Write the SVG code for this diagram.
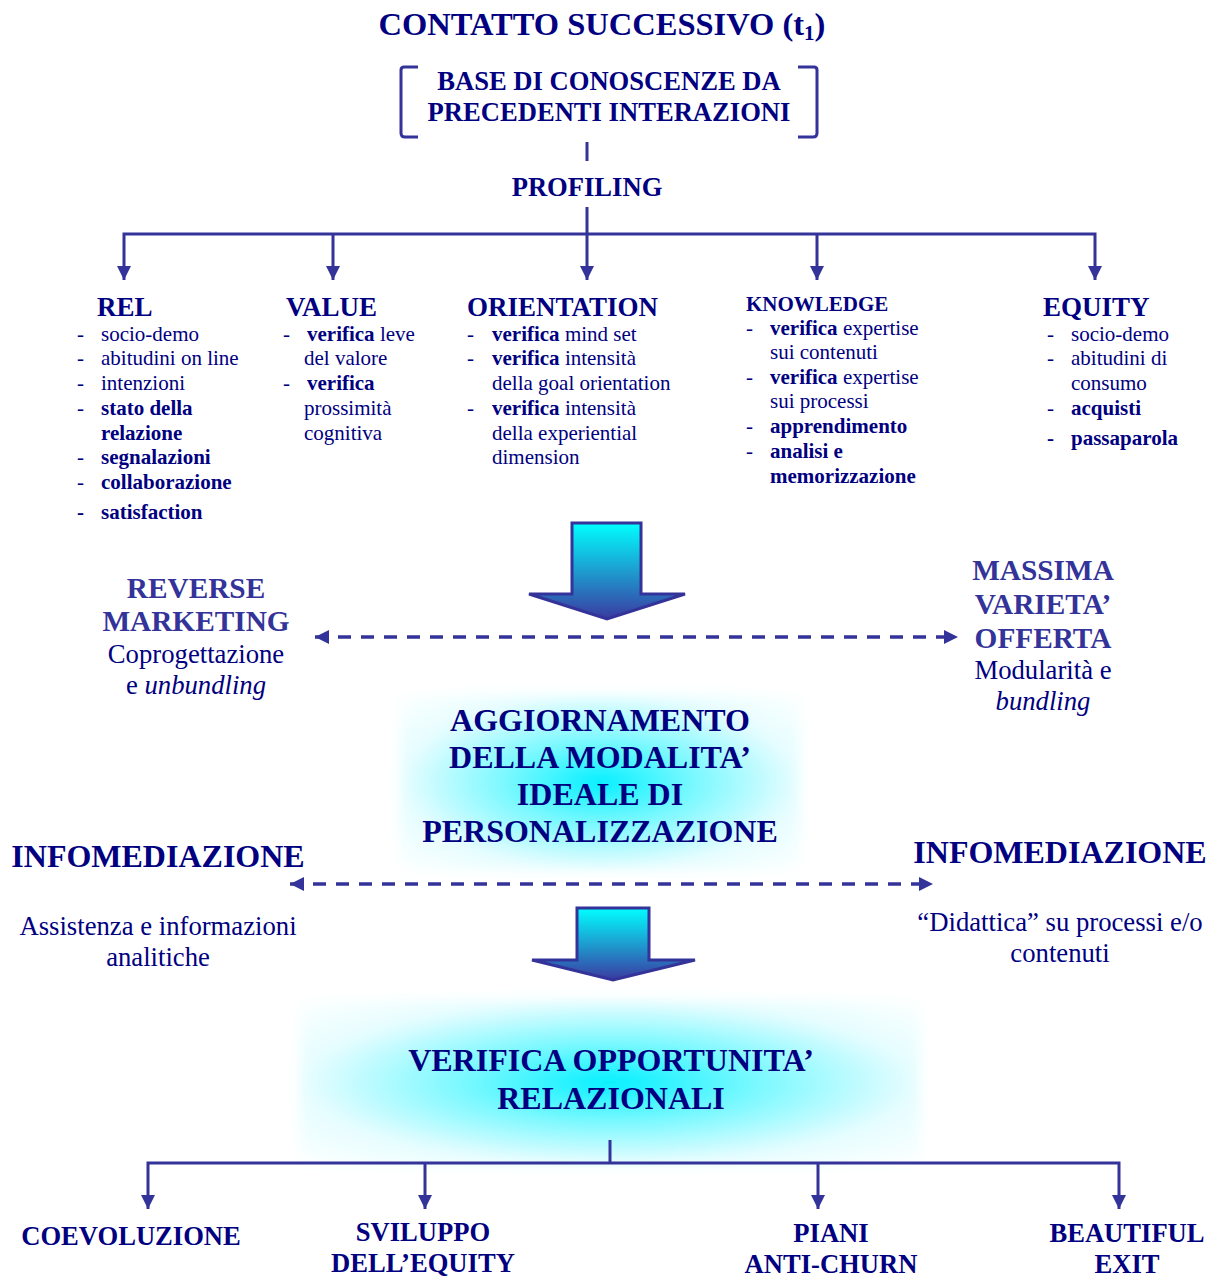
<svg xmlns="http://www.w3.org/2000/svg" width="1215" height="1278" viewBox="0 0 1215 1278">
<defs>
<style>
text{font-family:"Liberation Serif","Times New Roman",serif;fill:#000080}
.b{font-weight:bold}
.h{font-size:27px;font-weight:bold}
.h2{font-size:26.6px;font-weight:bold}
.li{font-size:21px}
.mid{text-anchor:middle}
.big{font-size:32px;font-weight:bold}
.sub{font-size:29.3px;font-weight:bold;fill:#333399}
.nm{font-size:26.7px}
.lt{fill:#333399}
.ln{stroke:#333399;stroke-width:3;fill:none}
.dash{stroke:#333399;stroke-width:3.5;fill:none;stroke-dasharray:13 10}
.bigarrow{fill:url(#ag);stroke:#333399;stroke-width:3}
</style>
<marker id="ah" viewBox="0 0 10 10" refX="10" refY="5" markerWidth="14" markerHeight="14" markerUnits="userSpaceOnUse" orient="auto-start-reverse">
<path d="M0,0 L10,5 L0,10 Z" fill="#333399"/>
</marker>
<marker id="dh" viewBox="0 0 10 10" refX="10" refY="5" markerWidth="16" markerHeight="14" markerUnits="userSpaceOnUse" orient="auto-start-reverse">
<path d="M0,0 L10,5 L0,10 Z" fill="#333399"/>
</marker>
<linearGradient id="ag" x1="0" y1="0" x2="0" y2="1">
<stop offset="0" stop-color="#00ffff"/>
<stop offset="1" stop-color="#3a3aa0"/>
</linearGradient>
<radialGradient id="glow" cx="0.5" cy="0.5" r="0.72">
<stop offset="0" stop-color="#00f0ff"/>
<stop offset="0.3" stop-color="#70f8ff"/>
<stop offset="0.68" stop-color="#e6fdff"/>
<stop offset="1" stop-color="#ffffff"/>
</radialGradient>
<filter id="soft" x="-10%" y="-10%" width="120%" height="120%">
<feGaussianBlur stdDeviation="6"/>
</filter>
</defs>
<rect width="1215" height="1278" fill="#ffffff"/>

<g id="glows" filter="url(#soft)">
<rect x="400" y="695" width="400" height="175" fill="url(#glow)"/>
<rect x="300" y="1000" width="620" height="165" fill="url(#glow)"/>
</g>

<g id="connectors">
<path class="ln" d="M401,70 Q401,67 404,67 L418,67 M401,70 L401,133 Q401,137 405,137 L418,137"/>
<path class="ln" d="M817,70 Q817,67 814,67 L798,67 M817,70 L817,133 Q817,137 813,137 L798,137"/>
<line class="ln" x1="587" y1="142" x2="587" y2="161"/>
<line class="ln" x1="587" y1="207" x2="587" y2="280" marker-end="url(#ah)"/>
<path class="ln" d="M124,280 L124,234 L1095,234 L1095,280" marker-start="url(#ah)" marker-end="url(#ah)"/>
<line class="ln" x1="333" y1="234" x2="333" y2="280" marker-end="url(#ah)"/>
<line class="ln" x1="817" y1="234" x2="817" y2="280" marker-end="url(#ah)"/>
<line class="dash" x1="315" y1="637" x2="958" y2="637" marker-start="url(#dh)" marker-end="url(#dh)"/>
<line class="dash" x1="290" y1="884" x2="933" y2="884" marker-start="url(#dh)" marker-end="url(#dh)"/>
<line class="ln" x1="610" y1="1140" x2="610" y2="1163"/>
<path class="ln" d="M148,1209 L148,1163 L1119,1163 L1119,1209" marker-start="url(#ah)" marker-end="url(#ah)"/>
<line class="ln" x1="425" y1="1163" x2="425" y2="1209" marker-end="url(#ah)"/>
<line class="ln" x1="818" y1="1163" x2="818" y2="1209" marker-end="url(#ah)"/>
<path class="bigarrow" d="M572,523 L641,523 L641,594 L685,594 L607,619 L529,594 L572,594 Z"/>
<path class="bigarrow" d="M577,908 L649,908 L649,960 L695,960 L613,980 L532,960 L577,960 Z"/>
</g>

<g id="title">
<text class="mid b" x="602" y="35" font-size="32.5">CONTATTO SUCCESSIVO (t<tspan font-size="21" dy="5">1</tspan><tspan dy="-5">)</tspan></text>
</g>
<g id="base">
<text class="h2 mid" x="609" y="90">BASE DI CONOSCENZE DA</text>
<text class="h2 mid" x="609" y="121">PRECEDENTI INTERAZIONI</text>
</g>
<g id="profiling">
<text class="h2 mid" x="587" y="196">PROFILING</text>
</g>

<g id="rel">
<text class="h" x="97" y="316">REL</text>
<g class="li">
<text x="77" y="341">-</text><text x="101" y="341">socio-demo</text>
<text x="77" y="365">-</text><text x="101" y="365">abitudini on line</text>
<text x="77" y="390">-</text><text x="101" y="390">intenzioni</text>
<text x="77" y="415">-</text><text class="b" x="101" y="415">stato della</text>
<text class="b" x="101" y="440">relazione</text>
<text x="77" y="464">-</text><text class="b" x="101" y="464">segnalazioni</text>
<text x="77" y="489">-</text><text class="b" x="101" y="489">collaborazione</text>
<text class="b" x="77" y="519">-</text><text class="b" x="101" y="519">satisfaction</text>
</g>
</g>

<g id="value">
<text class="h" x="286" y="316">VALUE</text>
<g class="li">
<text x="283" y="341">-</text><text x="307" y="341"><tspan class="b">verifica</tspan> leve</text>
<text x="304" y="365">del valore</text>
<text x="283" y="390">-</text><text class="b" x="307" y="390">verifica</text>
<text x="304" y="415">prossimità</text>
<text x="304" y="440">cognitiva</text>
</g>
</g>

<g id="orientation">
<text class="h" x="467" y="316">ORIENTATION</text>
<g class="li">
<text x="467" y="341">-</text><text x="492" y="341"><tspan class="b">verifica</tspan> mind set</text>
<text x="467" y="365">-</text><text x="492" y="365"><tspan class="b">verifica</tspan> intensità</text>
<text x="492" y="390">della goal orientation</text>
<text x="467" y="415">-</text><text x="492" y="415"><tspan class="b">verifica</tspan> intensità</text>
<text x="492" y="440">della experiential</text>
<text x="492" y="464">dimension</text>
</g>
</g>

<g id="knowledge">
<text class="b" x="746" y="311" font-size="21">KNOWLEDGE</text>
<g class="li">
<text x="746" y="335">-</text><text x="770" y="335"><tspan class="b">verifica</tspan> expertise</text>
<text x="770" y="359">sui contenuti</text>
<text x="746" y="384">-</text><text x="770" y="384"><tspan class="b">verifica</tspan> expertise</text>
<text x="770" y="408">sui processi</text>
<text x="746" y="433">-</text><text class="b" x="770" y="433">apprendimento</text>
<text x="746" y="458">-</text><text class="b" x="770" y="458">analisi e</text>
<text class="b" x="770" y="483">memorizzazione</text>
</g>
</g>

<g id="equity">
<text class="h" x="1043" y="316">EQUITY</text>
<g class="li">
<text x="1047" y="341">-</text><text x="1071" y="341">socio-demo</text>
<text x="1047" y="365">-</text><text x="1071" y="365">abitudini di</text>
<text x="1071" y="390">consumo</text>
<text x="1047" y="415">-</text><text class="b" x="1071" y="415">acquisti</text>
<text class="b" x="1047" y="445">-</text><text class="b" x="1071" y="445">passaparola</text>
</g>
</g>

<g id="reverse-marketing">
<text class="sub mid" x="196" y="598">REVERSE</text>
<text class="sub mid" x="196" y="631">MARKETING</text>
<text class="nm mid" x="196" y="663">Coprogettazione</text>
<text class="nm mid" x="196" y="694">e <tspan font-style="italic">unbundling</tspan></text>
</g>

<g id="massima-varieta">
<text class="sub mid" x="1043" y="580">MASSIMA</text>
<text class="sub mid" x="1043" y="614">VARIETA’</text>
<text class="sub mid" x="1043" y="648">OFFERTA</text>
<text class="nm mid" x="1043" y="679">Modularità e</text>
<text class="nm mid" x="1043" y="710" font-style="italic">bundling</text>
</g>

<g id="aggiornamento">
<text class="big mid" x="600" y="731">AGGIORNAMENTO</text>
<text class="big mid" x="600" y="768">DELLA MODALITA’</text>
<text class="big mid" x="600" y="805">IDEALE DI</text>
<text class="big mid" x="600" y="842">PERSONALIZZAZIONE</text>
</g>

<g id="infomediazione-left">
<text class="big mid" x="158" y="867">INFOMEDIAZIONE</text>
<text class="nm mid" x="158" y="935">Assistenza e informazioni</text>
<text class="nm mid" x="158" y="966">analitiche</text>
</g>

<g id="infomediazione-right">
<text class="big mid" x="1060" y="863">INFOMEDIAZIONE</text>
<text class="nm mid" x="1060" y="931">“Didattica” su processi e/o</text>
<text class="nm mid" x="1060" y="962">contenuti</text>
</g>

<g id="verifica">
<text class="big mid" x="611" y="1071" font-size="32.8">VERIFICA OPPORTUNITA’</text>
<text class="big mid" x="611" y="1109" font-size="32.8">RELAZIONALI</text>
</g>

<g id="coevoluzione"><text class="h2 mid" x="131" y="1245">COEVOLUZIONE</text></g>
<g id="sviluppo">
<text class="h2 mid" x="423" y="1241">SVILUPPO</text>
<text class="h2 mid" x="423" y="1272">DELL’EQUITY</text>
</g>
<g id="piani">
<text class="h2 mid" x="831" y="1242">PIANI</text>
<text class="h2 mid" x="831" y="1273">ANTI-CHURN</text>
</g>
<g id="beautiful">
<text class="h2 mid" x="1127" y="1242">BEAUTIFUL</text>
<text class="h2 mid" x="1127" y="1273">EXIT</text>
</g>
</svg>
